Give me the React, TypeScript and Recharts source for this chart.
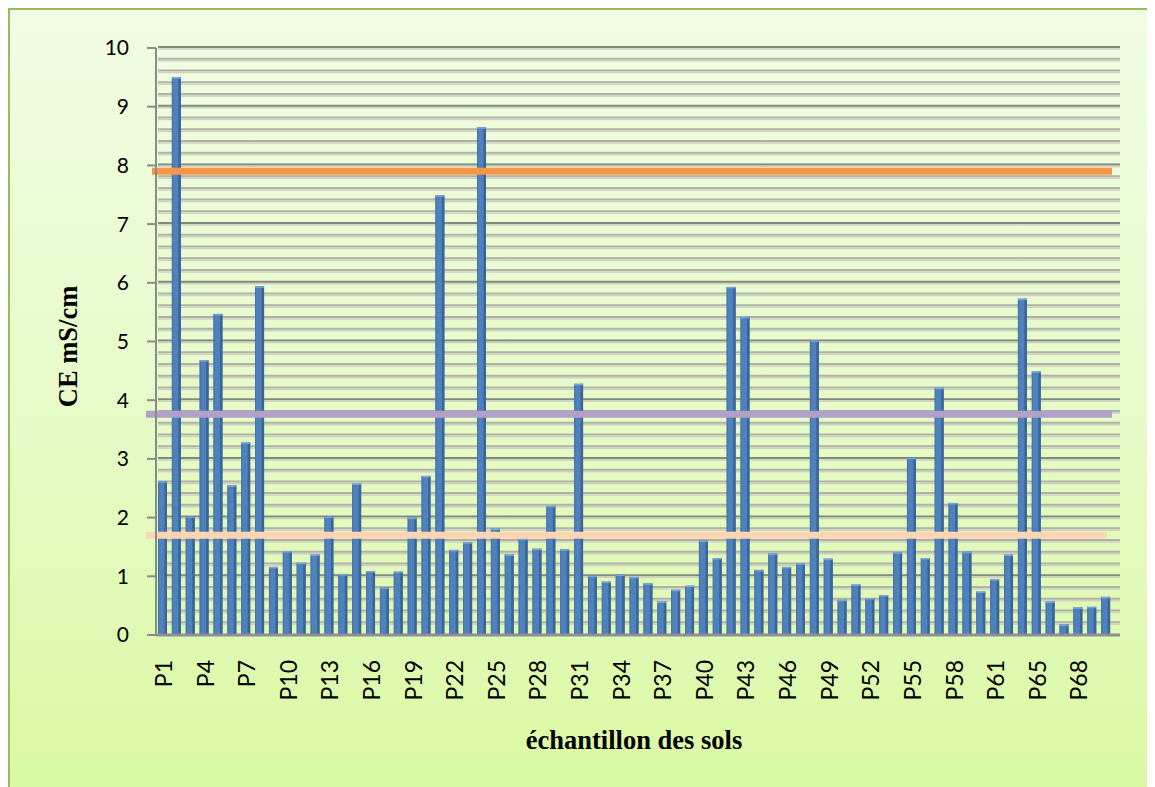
import React from 'react';
import { BarChart, Bar, XAxis, YAxis, CartesianGrid, ReferenceLine, Label } from 'recharts';

// échantillons (P64 absent de la série)
const categories = [
  'P1', 'P2', 'P3', 'P4', 'P5', 'P6', 'P7', 'P8', 'P9', 'P10',
  'P11', 'P12', 'P13', 'P14', 'P15', 'P16', 'P17', 'P18', 'P19', 'P20',
  'P21', 'P22', 'P23', 'P24', 'P25', 'P26', 'P27', 'P28', 'P29', 'P30',
  'P31', 'P32', 'P33', 'P34', 'P35', 'P36', 'P37', 'P38', 'P39', 'P40',
  'P41', 'P42', 'P43', 'P44', 'P45', 'P46', 'P47', 'P48', 'P49', 'P50',
  'P51', 'P52', 'P53', 'P54', 'P55', 'P56', 'P57', 'P58', 'P59', 'P60',
  'P61', 'P62', 'P63', 'P65', 'P66', 'P67', 'P68', 'P69', 'P70',
];

// conductivité électrique (mS/cm)
const ceValues = [
  2.62, 9.5, 2.02, 4.68, 5.47, 2.55, 3.28, 5.94, 1.16, 1.43,
  1.23, 1.37, 2.02, 1.04, 2.58, 1.09, 0.81, 1.08, 2.0, 2.71,
  7.49, 1.45, 1.58, 8.65, 1.81, 1.37, 1.64, 1.47, 2.2, 1.46,
  4.28, 1.01, 0.91, 1.03, 0.99, 0.88, 0.57, 0.77, 0.84, 1.61,
  1.31, 5.93, 5.42, 1.11, 1.39, 1.16, 1.22, 5.02, 1.3, 0.6,
  0.86, 0.63, 0.68, 1.41, 3.02, 1.31, 4.21, 2.25, 1.42, 0.74,
  0.95, 1.37, 5.73, 4.49, 0.57, 0.18, 0.47, 0.48, 0.65,
];

const yTicks = [0, 1, 2, 3, 4, 5, 6, 7, 8, 9, 10];
const minorSteps = [0.2, 0.4, 0.6, 0.8];
// seuils de salinité tracés en travers du graphique
const thresholdValues = [7.9, 3.76, 1.7];

const data = categories.map((name, i) => ({ name, ce: ceValues[i] }));
const minorTicks = yTicks.slice(0, -1).flatMap((t) => minorSteps.map((s) => +(t + s).toFixed(1)));

const FONT = 'Lato, "Liberation Sans", sans-serif';
const SERIF = '"Liberation Serif", "Times New Roman", serif';

// barre avec un petit effet 3D (face droite plus sombre)
const Bar3D = (props: any) => {
  const { x, y, width, height } = props;
  if (!height || height <= 0) return null;
  return (
    <g>
      <rect x={x} y={y} width={width} height={height} fill="#4f81bd" />
      <rect x={x + width - 2.5} y={y} width={2.5} height={height} fill="#3a6595" />
      <rect x={x} y={y} width={1} height={height} fill="#4672a8" />
      <rect x={x} y={y} width={width} height={1.5} fill="#7aa2d4" />
    </g>
  );
};

// ligne de quadrillage "3D" : trait gris + reflet clair
const gridLine = (color: string) => (props: any) => {
  const { x1, x2, y1 } = props;
  return (
    <g key={`g-${y1}`}>
      <line x1={x1 + 2} x2={x2} y1={y1 - 1} y2={y1 - 1} stroke={color} strokeWidth={2} />
      <line x1={x1 + 2} x2={x2} y1={y1 + 1} y2={y1 + 1} stroke="#cdd0c3" strokeWidth={1.5} />
    </g>
  );
};

// positions du quadrillage sur l'axe Y (domaine 0–10)
const gridCoords = (values: number[]) => ({ yAxis, offset }: any) => {
  if (yAxis && typeof yAxis.scale === 'function') return values.map((v) => yAxis.scale(v));
  const lo = yTicks[0];
  const hi = yTicks[yTicks.length - 1];
  return values.map((v) => offset.top + (offset.height * (hi - v)) / (hi - lo));
};

const XTick = ({ x, y, payload }: any) => (
  <text
    x={x}
    y={y}
    transform={`rotate(-90, ${x}, ${y})`}
    textAnchor="end"
    dominantBaseline="central"
    fontFamily={FONT}
    fontSize={23}
    fill="#000"
  >
    {payload.value}
  </text>
);

const thresholdLine = (leftExt: number, rightTrim: number) => (props: any) => {
  const { x1, x2, y1, stroke, strokeWidth } = props;
  return <line x1={x1 - leftExt} x2={x2 - rightTrim} y1={y1} y2={y1} stroke={stroke} strokeWidth={strokeWidth} />;
};

const App: React.FC = () => {
  return (
    <div
      style={{
        position: 'relative',
        width: 1143,
        height: 800,
        boxSizing: 'border-box',
        border: '2px solid #9bbb59',
        background: 'linear-gradient(to bottom, #f1fce4 0%, #e6fbc8 50%, #d9f9a2 100%)',
        overflow: 'hidden',
      }}
    >
      <BarChart
        width={1139}
        height={780}
        data={data}
        margin={{ top: 38, right: 29, left: 0, bottom: 75 }}
        barSize={9}
      >
        <CartesianGrid
          vertical={false}
          horizontalCoordinatesGenerator={gridCoords(minorTicks)}
          horizontal={gridLine('#aeb1a4')}
          stroke="#aeb1a4"
        />
        <CartesianGrid
          vertical={false}
          horizontalCoordinatesGenerator={gridCoords(yTicks.slice(1))}
          horizontal={gridLine('#84877b')}
          stroke="#84877b"
        />
        <XAxis
          dataKey="name"
          interval={2}
          tickLine={false}
          tickSize={0}
          tickMargin={25}
          height={80}
          padding={{ left: 0, right: 7 }}
          axisLine={{ stroke: '#8f8f8f', strokeWidth: 3 }}
          tick={<XTick />}
        >
          <Label
            content={({ viewBox }: any) => (
              <text
                x={viewBox.x + viewBox.width / 2 - 4}
                y={viewBox.y + viewBox.height + 34}
                textAnchor="middle"
                fontFamily={SERIF}
                fontWeight="bold"
                fontSize={26.5}
                fill="#000"
              >
                échantillon des sols
              </text>
            )}
          />
        </XAxis>
        <YAxis
          domain={[0, 10]}
          ticks={yTicks}
          width={146}
          tickSize={9}
          tickMargin={18}
          axisLine={{ stroke: '#8a8a8a', strokeWidth: 2 }}
          tickLine={{ stroke: '#8a8a8a', strokeWidth: 2 }}
          tick={{ fontFamily: FONT, fontSize: 21, fill: '#000' }}
        >
          <Label
            content={({ viewBox }: any) => {
              const cx = viewBox.x + 58;
              const cy = viewBox.y + viewBox.height / 2 + 5;
              return (
                <text
                  x={cx}
                  y={cy}
                  transform={`rotate(-90, ${cx}, ${cy})`}
                  textAnchor="middle"
                  dominantBaseline="central"
                  fontFamily={SERIF}
                  fontWeight="bold"
                  fontSize={26.5}
                  fill="#000"
                >
                  CE mS/cm
                </text>
              );
            }}
          />
        </YAxis>
        <Bar dataKey="ce" shape={<Bar3D />} isAnimationActive={false} />
        <ReferenceLine
          y={thresholdValues[0]}
          stroke="#f79646"
          strokeWidth={7}
          shape={thresholdLine(4, 8)}
        />
        <ReferenceLine
          y={thresholdValues[1]}
          stroke="#b1a0c7"
          strokeWidth={7}
          shape={thresholdLine(10, 8)}
        />
        <ReferenceLine
          y={thresholdValues[2]}
          stroke="#fcd5b4"
          strokeWidth={7}
          shape={thresholdLine(10, 13)}
        />
      </BarChart>
    </div>
  );
};

export default App;
